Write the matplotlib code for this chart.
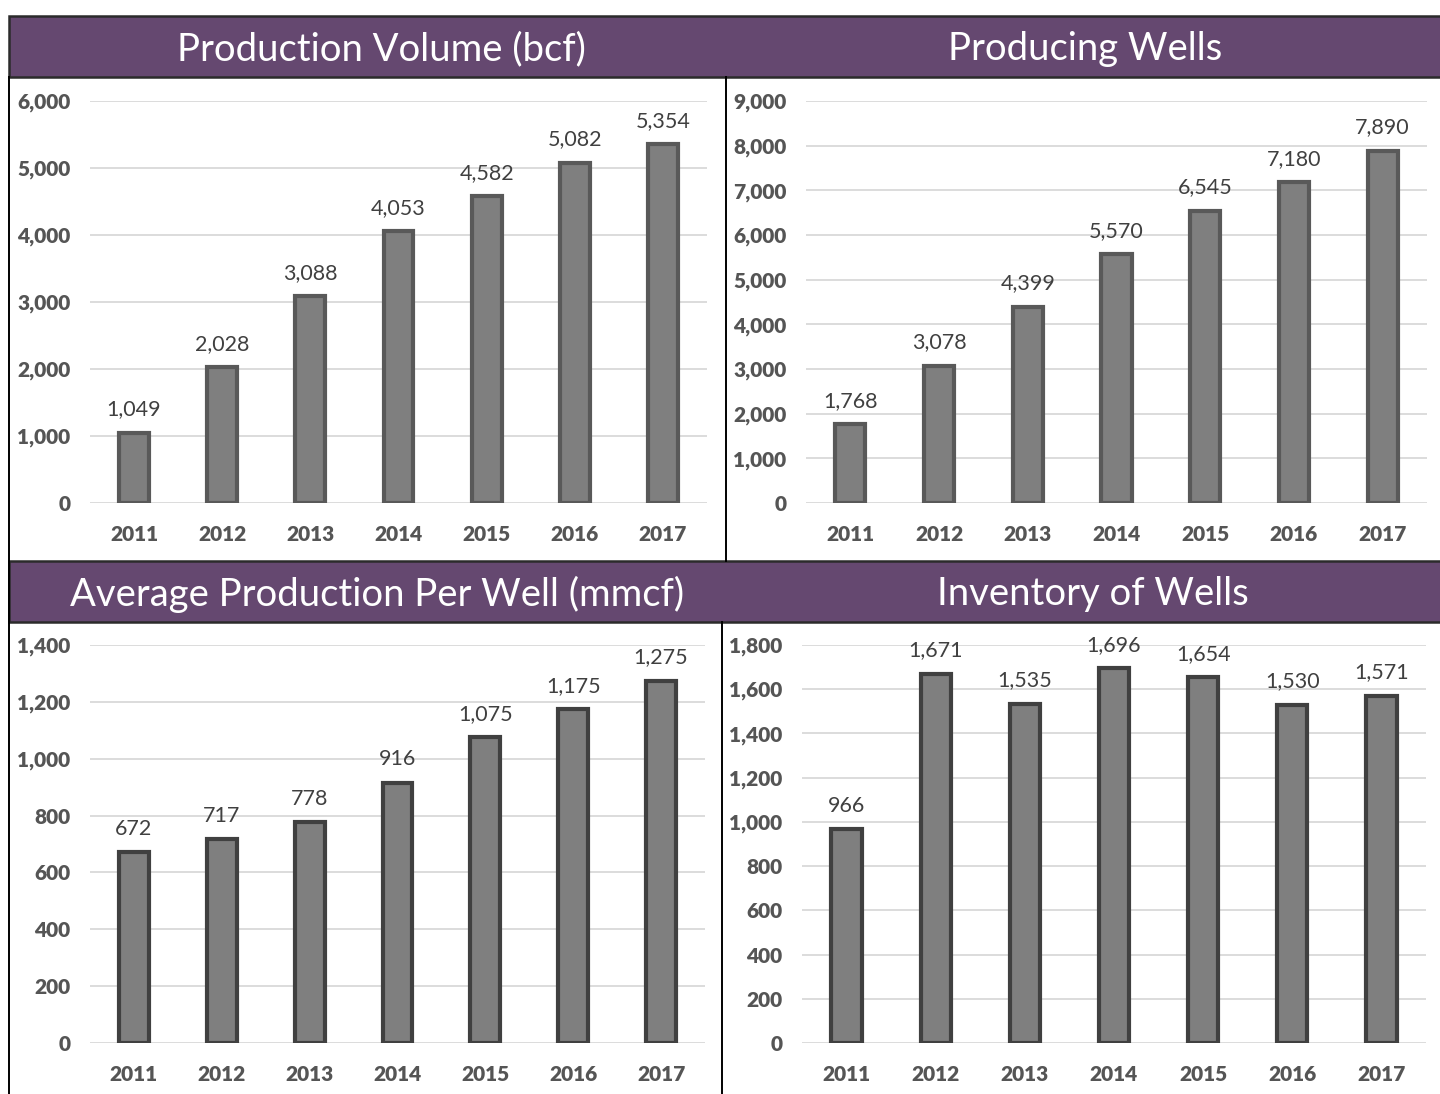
import matplotlib
matplotlib.use("Agg")
import matplotlib.pyplot as plt
from matplotlib.patches import Rectangle
from matplotlib.ticker import FuncFormatter, MultipleLocator

years = ["2011", "2012", "2013", "2014", "2015", "2016", "2017"]
production_volume = [1049, 2028, 3088, 4053, 4582, 5082, 5354]
producing_wells = [1768, 3078, 4399, 5570, 6545, 7180, 7890]
avg_per_well = [672, 717, 778, 916, 1075, 1175, 1275]
inventory_wells = [966, 1671, 1535, 1696, 1654, 1530, 1571]

titles = ["Production Volume (bcf)", "Producing Wells",
          "Average Production Per Well (mmcf)", "Inventory of Wells"]

W, H = 1440, 1094
fig = plt.figure(figsize=(W / 100, H / 100), dpi=100)
fig.patch.set_facecolor("white")

# background layer in pixel coordinates
bg = fig.add_axes([0, 0, 1, 1])
bg.set_xlim(0, W)
bg.set_ylim(H, 0)
bg.axis("off")

purple = "#654870"
# title bars
bg.add_patch(Rectangle((9, 16), W - 9 + 5, 61, facecolor=purple, edgecolor="#2b2b2b", lw=1.8))
bg.add_patch(Rectangle((9, 561), W - 9 + 5, 61, facecolor=purple, edgecolor="#2b2b2b", lw=1.8))
# panel borders
bg.plot([9, 9], [77, H], color="black", lw=1.4)
bg.plot([726, 726], [77, 561], color="black", lw=1.4)
bg.plot([722, 722], [622, H], color="black", lw=1.4)

tkw = dict(color="white", fontsize=27.5, family="Lato", ha="center", va="center")
bg.text(381, 49, titles[0], **tkw)
bg.text(1085, 49, titles[1], **tkw)
bg.text(377, 594, titles[2], **tkw)
bg.text(1093, 594, titles[3], **tkw)

# panels: (left px, width px, bottom px, top px, data, ymax, step, edgecolor)
panels = [
    (90, 617, 503, 101, production_volume, 6000, 1000, "#595959"),
    (806, 621, 503, 101, producing_wells, 9000, 1000, "#595959"),
    (90, 615, 1043, 645, avg_per_well, 1400, 200, "#404040"),
    (802, 624, 1043, 645, inventory_wells, 1800, 200, "#404040"),
]

fmt = FuncFormatter(lambda v, p: f"{int(v):,}")

for left, width, bottom, top, data, ymax, step, ec in panels:
    ax = fig.add_axes([left / W, 1 - bottom / H, width / W, (bottom - top) / H])
    x = list(range(len(years)))
    ax.bar(x, data, width=0.34, color="#7f7f7f", edgecolor=ec, linewidth=3, zorder=3)
    ax.set_xlim(-0.5, len(years) - 0.5)
    ax.set_ylim(0, ymax)
    ax.yaxis.set_major_locator(MultipleLocator(step))
    ax.yaxis.set_major_formatter(fmt)
    ax.grid(axis="y", color="#d9d9d9", lw=1.3, zorder=0)
    ax.set_axisbelow(True)
    for s in ax.spines.values():
        s.set_visible(False)
    ax.set_xticks(x)
    ax.set_xticklabels(years)
    ax.tick_params(axis="both", length=0, labelcolor="#555555")
    ax.tick_params(axis="x", pad=16)
    ax.tick_params(axis="y", pad=14)
    for lbl in ax.get_xticklabels() + ax.get_yticklabels():
        lbl.set_family("Lato")
        lbl.set_fontweight("heavy")
        lbl.set_fontsize(15)
    for xi, v in zip(x, data):
        ax.annotate(f"{v:,}", (xi, v), xytext=(0, 9.5), textcoords="offset points",
                    ha="center", va="bottom", fontsize=15.5, family="Lato", color="#404040")
    ax.patch.set_alpha(0)

fig.savefig("out.png", dpi=100)
